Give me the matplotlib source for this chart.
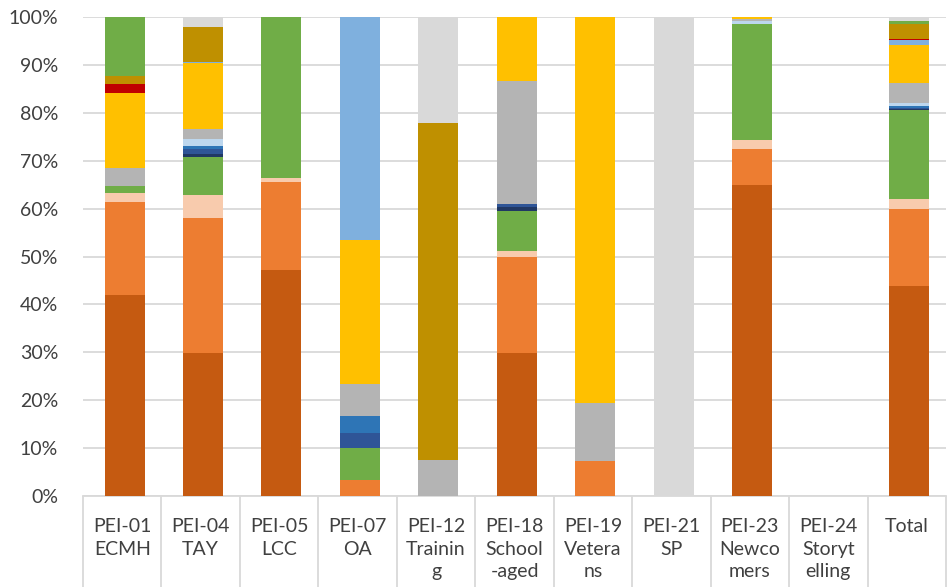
import matplotlib
matplotlib.use("Agg")
import matplotlib.pyplot as plt
import numpy as np
from matplotlib.ticker import FixedLocator, PercentFormatter

plt.rcParams["font.family"] = ["Lato", "DejaVu Sans"]

categories = [
    "PEI-01\nECMH", "PEI-04\nTAY", "PEI-05\nLCC", "PEI-07\nOA",
    "PEI-12\nTrainin\ng", "PEI-18\nSchool\n-aged", "PEI-19\nVetera\nns",
    "PEI-21\nSP", "PEI-23\nNewco\nmers", "PEI-24\nStoryt\nelling", "Total",
]

# share (%) of each segment per category, stacked bottom to top
dark_orange = [42.0, 29.9, 47.2, 0.0, 0.0, 29.9, 0.0, 0.0, 64.9, 0.0, 43.8]
orange      = [19.4, 28.1, 18.4, 3.3, 0.0, 19.9, 7.3, 0.0, 7.5, 0.0, 16.1]
peach       = [1.8, 4.8, 0.7, 0.0, 0.0, 1.3, 0.0, 0.0, 1.9, 0.0, 2.0]
green       = [1.6, 8.0, 33.7, 6.7, 0.0, 8.5, 0.0, 0.0, 24.3, 0.0, 18.7]
dark_navy   = [0.0, 0.7, 0.0, 0.0, 0.0, 0.7, 0.0, 0.0, 0.0, 0.0, 0.1]
navy        = [0.0, 0.9, 0.0, 3.2, 0.0, 0.7, 0.0, 0.0, 0.0, 0.0, 0.3]
blue        = [0.0, 0.7, 0.0, 3.4, 0.0, 0.0, 0.0, 0.0, 0.0, 0.0, 0.4]
pale_blue   = [0.0, 1.4, 0.0, 0.0, 0.0, 0.0, 0.0, 0.0, 0.6, 0.0, 0.6]
gray        = [3.6, 2.1, 0.0, 6.7, 7.5, 25.6, 12.1, 0.0, 0.4, 0.0, 4.3]
yellow      = [15.8, 13.7, 0.0, 30.1, 0.0, 13.4, 80.6, 0.0, 0.4, 0.0, 7.9]
light_blue  = [0.0, 0.4, 0.0, 46.6, 0.0, 0.0, 0.0, 0.0, 0.0, 0.0, 1.0]
red         = [1.8, 0.0, 0.0, 0.0, 0.0, 0.0, 0.0, 0.0, 0.0, 0.0, 0.2]
gold        = [1.7, 7.3, 0.0, 0.0, 70.4, 0.0, 0.0, 0.0, 0.0, 0.0, 3.2]
green_top   = [12.3, 0.0, 0.0, 0.0, 0.0, 0.0, 0.0, 0.0, 0.0, 0.0, 0.6]
light_gray  = [0.0, 2.0, 0.0, 0.0, 22.1, 0.0, 0.0, 100.0, 0.0, 0.0, 0.8]

series = [
    (dark_orange, "#C55A11"), (orange, "#ED7D31"), (peach, "#F8CBAD"),
    (green, "#70AD47"), (dark_navy, "#203864"), (navy, "#2F5597"),
    (blue, "#2E75B6"), (pale_blue, "#BDD7EE"), (gray, "#B4B4B4"),
    (yellow, "#FFC000"), (light_blue, "#7FB0DE"), (red, "#C00000"),
    (gold, "#BF9000"), (green_top, "#70AD47"), (light_gray, "#D9D9D9"),
]

W, H = 947, 587
fig = plt.figure(figsize=(W / 100, H / 100), dpi=100)
ax = fig.add_axes([83 / W, (H - 496) / H, 863 / W, (496 - 17) / H])

x = np.arange(len(categories))
bottom = np.zeros(len(categories))
for values, color in series:
    vals = np.array(values)
    ax.bar(x + 0.03, vals, width=0.51, bottom=bottom, color=color, linewidth=0, zorder=3)
    bottom += vals

ax.set_xlim(-0.5, len(categories) - 0.5)
ax.set_ylim(0, 100)
ax.yaxis.set_major_locator(FixedLocator(np.arange(0, 101, 10)))
ax.yaxis.set_major_formatter(PercentFormatter(decimals=0))
ax.grid(axis="y", color="#D9D9D9", linewidth=1.3, zorder=0)
ax.tick_params(axis="y", length=0, pad=18, labelsize=14, labelcolor="#404040")

# category boxes: long separator ticks at boundaries, labels at centers
ax.set_xticks(np.arange(-0.5, len(categories), 1.0))
ax.set_xticklabels([])
ax.tick_params(axis="x", which="major", length=66, width=1.3, color="#D9D9D9")
ax.set_xticks(x, minor=True)
ax.set_xticklabels(categories, minor=True, fontsize=14, color="#404040",
                   linespacing=1.4, va="top")
ax.tick_params(axis="x", which="minor", length=0, pad=16)

for side in ("left", "right", "top"):
    ax.spines[side].set_visible(False)
ax.spines["bottom"].set_color("#D9D9D9")
ax.spines["bottom"].set_linewidth(1.3)

fig.savefig("out.png", dpi=100)
